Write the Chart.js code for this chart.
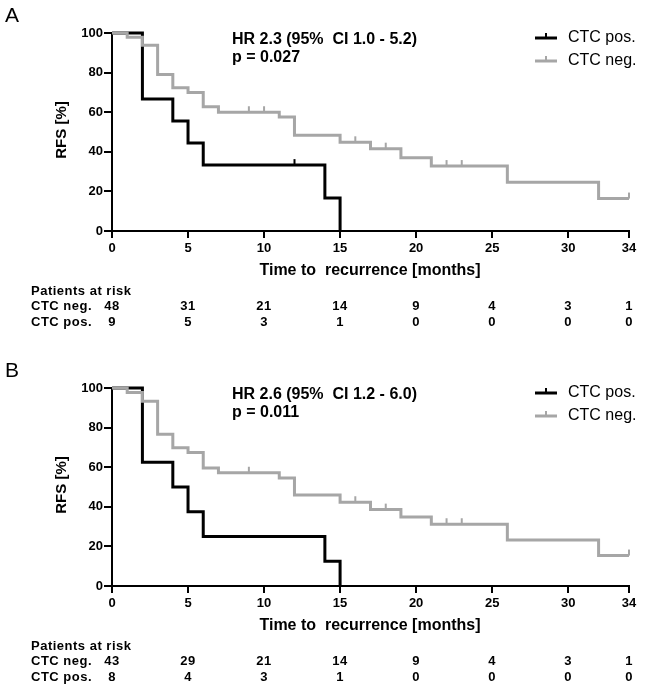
<!DOCTYPE html>
<html>
<head>
<meta charset="utf-8">
<script src="https://cdn.jsdelivr.net/npm/chart.js@4/dist/chart.umd.min.js"></script>
<style>
  body { margin: 0; background: #fff; }
  #wrap { position: relative; width: 650px; height: 693px; }
  canvas { position: absolute; left: 0; }
</style>
</head>
<body>
<div id="wrap">
  <canvas id="panelA" width="650" height="355" style="top:0"></canvas>
  <canvas id="panelB" width="650" height="338" style="top:355px"></canvas>
</div>
<script>
// axis ticks
const monthTicks = [0, 5, 10, 15, 20, 25, 30, 34];
const rfsTicks = [0, 20, 40, 60, 80, 100];

// Panel A - step points (time, RFS %)
const posTimeA = [0, 2, 4, 5, 6, 14, 15];
const posRfsA  = [100, 66.7, 55.6, 44.4, 33.3, 16.7, 0];
const posCensTimeA = [12];
const posCensRfsA  = [33.3];
const negTimeA = [0, 1, 2, 3, 4, 5, 6, 7, 11, 12, 15, 17, 19, 21, 26, 32, 34];
const negRfsA  = [100, 97.9, 93.8, 79, 72.3, 70, 62.7, 60, 57.6, 48.3, 44.8, 41.6, 37, 32.8, 24.6, 16.4, 16.4];
const negCensTimeA = [9, 10, 16, 18, 22, 23, 34];
const negCensRfsA  = [60, 60, 44.8, 41.6, 32.8, 32.8, 16.4];
const riskNegA = [48, 31, 21, 14, 9, 4, 3, 1];
const riskPosA = [9, 5, 3, 1, 0, 0, 0, 0];

// Panel B
const posTimeB = [0, 2, 4, 5, 6, 14, 15];
const posRfsB  = [100, 62.5, 50, 37.5, 25, 12.5, 0];
const posCensTimeB = [];
const posCensRfsB  = [];
const negTimeB = [0, 1, 2, 3, 4, 5, 6, 7, 11, 12, 15, 17, 19, 21, 26, 32, 34];
const negRfsB  = [100, 97.7, 93.3, 76.7, 69.8, 67.4, 59.6, 57.2, 54.5, 45.9, 42.3, 38.6, 34.9, 31.2, 23.2, 15.4, 15.4];
const negCensTimeB = [9, 16, 18, 22, 23, 34];
const negCensRfsB  = [57.2, 42.3, 38.6, 31.2, 31.2, 15.4];
const riskNegB = [43, 29, 21, 14, 9, 4, 3, 1];
const riskPosB = [8, 4, 3, 1, 0, 0, 0, 0];

const BLACK = '#000000';
const GREY = '#a6a6a6';
const FONT = "'Liberation Sans', Arial, sans-serif";

Chart.defaults.font.family = FONT;

// censor mark: small vertical tick rising above the line
function censorMark(color) {
  const c = document.createElement('canvas');
  c.width = 4; c.height = 14;
  const g = c.getContext('2d');
  g.fillStyle = color;
  g.fillRect(1, 1, 2, 6);
  return c;
}

function pts(xs, ys) {
  return xs.map((x, i) => ({ x: x, y: ys[i] }));
}

function drawLegendLine(ctx, x, y, color) {
  ctx.strokeStyle = color;
  ctx.lineWidth = 3;
  ctx.beginPath();
  ctx.moveTo(x, y); ctx.lineTo(x + 22, y);
  ctx.stroke();
  ctx.lineWidth = 2;
  ctx.beginPath();
  ctx.moveTo(x + 11, y); ctx.lineTo(x + 11, y - 5);
  ctx.stroke();
}

function makePanel(id, letter, hr, pval, d) {
  const textPlugin = {
    id: 'kmText',
    afterDraw(chart) {
      const ctx = chart.ctx;
      const area = chart.chartArea;
      const xs = chart.scales.x;
      ctx.save();
      ctx.fillStyle = '#000';
      ctx.textBaseline = 'middle';

      ctx.font = '21px ' + FONT;
      ctx.textAlign = 'left';
      ctx.fillText(letter, 5, 16);

      ctx.font = 'bold 16px ' + FONT;
      ctx.fillText(hr, 232, 40);
      ctx.fillText(pval, 232, 58);

      drawLegendLine(ctx, 535, 38, BLACK);
      drawLegendLine(ctx, 535, 61, GREY);
      ctx.font = '16px ' + FONT;
      ctx.fillStyle = '#000';
      ctx.fillText('CTC pos.', 568, 38);
      ctx.fillText('CTC neg.', 568, 61);

      // y title
      ctx.save();
      ctx.translate(62, 130);
      ctx.rotate(-Math.PI / 2);
      ctx.textAlign = 'center';
      ctx.font = 'bold 15px ' + FONT;
      ctx.fillText('RFS [%]', 0, 0);
      ctx.restore();

      // x title
      ctx.textAlign = 'center';
      ctx.font = 'bold 16px ' + FONT;
      ctx.fillText('Time to  recurrence [months]', 370, area.bottom + 40);

      // patients at risk
      ctx.font = 'bold 13px ' + FONT;
      ctx.letterSpacing = '0.5px';
      ctx.textAlign = 'left';
      const y0 = area.bottom + 60;
      ctx.fillText('Patients at risk', 31, y0);
      ctx.fillText('CTC neg.', 31, y0 + 15);
      ctx.fillText('CTC pos.', 31, y0 + 31);
      ctx.textAlign = 'center';
      monthTicks.forEach((m, i) => {
        const px = xs.getPixelForValue(m);
        ctx.fillText(String(d.riskNeg[i]), px, y0 + 15);
        ctx.fillText(String(d.riskPos[i]), px, y0 + 31);
      });
      ctx.letterSpacing = '0px';
      ctx.restore();
    }
  };

  const canvas = document.getElementById(id);
  return new Chart(canvas, {
    type: 'line',
    data: {
      datasets: [
        {
          label: 'CTC neg.',
          data: pts(d.negTime, d.negRfs),
          stepped: true,
          borderColor: GREY,
          borderWidth: 3,
          pointRadius: 0,
          fill: false,
          clip: 6,
          order: 0
        },
        {
          label: 'CTC neg. censored',
          data: pts(d.negCensTime, d.negCensRfs),
          showLine: false,
          pointStyle: censorMark(GREY),
          pointRadius: 4,
          clip: 8,
          order: 0
        },
        {
          label: 'CTC pos.',
          data: pts(d.posTime, d.posRfs),
          stepped: true,
          borderColor: BLACK,
          borderWidth: 3,
          pointRadius: 0,
          fill: false,
          clip: 6,
          order: 1
        },
        {
          label: 'CTC pos. censored',
          data: pts(d.posCensTime, d.posCensRfs),
          showLine: false,
          pointStyle: censorMark(BLACK),
          pointRadius: 4,
          clip: 8,
          order: 1
        }
      ]
    },
    options: {
      responsive: false,
      animation: false,
      events: [],
      layout: { padding: { top: 33, right: 21, left: 0, bottom: 0 } },
      plugins: {
        legend: { display: false },
        tooltip: { enabled: false }
      },
      scales: {
        x: {
          type: 'linear',
          min: 0,
          max: 34,
          afterBuildTicks: s => { s.ticks = monthTicks.map(v => ({ value: v })); },
          afterFit: s => { s.height = canvas.height - 231; },
          ticks: { color: '#000', font: { size: 13, weight: 'bold' }, padding: 3, autoSkip: false, maxRotation: 0 },
          grid: { drawOnChartArea: false, drawTicks: true, tickLength: 7, color: '#000', lineWidth: 2 },
          border: { display: true, color: '#000', width: 2 }
        },
        y: {
          type: 'linear',
          min: 0,
          max: 100,
          afterBuildTicks: s => { s.ticks = rfsTicks.map(v => ({ value: v })); },
          afterFit: s => { s.width = 112; },
          ticks: { color: '#000', font: { size: 13, weight: 'bold' }, padding: 1 },
          grid: { drawOnChartArea: false, drawTicks: true, tickLength: 8, color: '#000', lineWidth: 2 },
          border: { display: true, color: '#000', width: 2 }
        }
      }
    },
    plugins: [textPlugin]
  });
}

makePanel('panelA', 'A', 'HR 2.3 (95%  CI 1.0 - 5.2)', 'p = 0.027', {
  posTime: posTimeA, posRfs: posRfsA, posCensTime: posCensTimeA, posCensRfs: posCensRfsA,
  negTime: negTimeA, negRfs: negRfsA, negCensTime: negCensTimeA, negCensRfs: negCensRfsA,
  riskNeg: riskNegA, riskPos: riskPosA
});
makePanel('panelB', 'B', 'HR 2.6 (95%  CI 1.2 - 6.0)', 'p = 0.011', {
  posTime: posTimeB, posRfs: posRfsB, posCensTime: posCensTimeB, posCensRfs: posCensRfsB,
  negTime: negTimeB, negRfs: negRfsB, negCensTime: negCensTimeB, negCensRfs: negCensRfsB,
  riskNeg: riskNegB, riskPos: riskPosB
});
</script>
</body>
</html>
